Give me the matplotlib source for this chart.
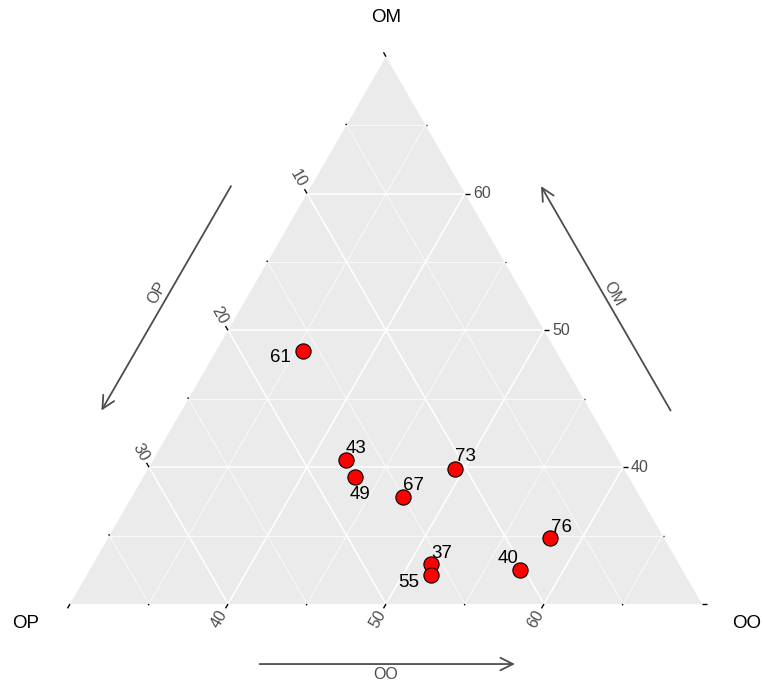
import numpy as np
import matplotlib
matplotlib.use("Agg")
import matplotlib.pyplot as plt

plt.rcParams['font.family'] = ['Liberation Sans', 'DejaVu Sans']

# sample composition (percent)
sample_ids = [61, 43, 49, 67, 73, 76, 37, 55, 40]
om_vals = [48.5, 40.5, 39.3, 37.8, 39.9, 34.8, 32.9, 32.1, 32.5]
oo_vals = [35.5, 42.2, 43.4, 47.2, 49.4, 58.0, 51.4, 51.8, 57.2]
op_vals = [16.0, 17.3, 17.3, 15.0, 10.7, 7.2, 15.7, 16.1, 10.3]

# zoomed ternary limits
om_min, oo_min, span = 30, 30, 40
om_breaks = [40, 50, 60]
oo_breaks = [40, 50, 60]
op_breaks = [10, 20, 30]

# label offsets in pixels (dx, dy with y down) relative to the point
label_offsets = {61: (-23, 4.5), 43: (10.5, -13.7), 49: (5, 15.3), 67: (10.5, -13.7),
                 73: (10.5, -14.3), 76: (11.3, -13.4), 37: (11, -13), 55: (-22.4, 4.8),
                 40: (-11.2, -13.4)}

H = np.sqrt(3) / 2
PX = 632.0  # pixels per unit


def tern_xy(om, oo, op):
    om, oo, op = np.asarray(om, float), np.asarray(oo, float), np.asarray(op, float)
    tot = om + oo + op
    a = (om / tot * 100 - om_min) / span
    c = (oo / tot * 100 - oo_min) / span
    return c + a / 2, a * H


fig = plt.figure(figsize=(7.64, 6.83), dpi=100)
ax = fig.add_axes([0, 0, 1, 1])
ax.set_xlim(-70 / PX, 694 / PX)
ax.set_ylim(-79 / PX, 604 / PX)
ax.axis('off')

# panel
ax.fill([0, 1, 0.5], [0, 0, H], color='#EBEBEB', lw=0, zorder=0)

# grid
for v in np.arange(35, 70, 5):
    major = v % 10 == 0
    lw = 1.1 if major else 0.5
    a = (v - om_min) / span
    ax.plot([a / 2, 1 - a / 2], [a * H, a * H], color='white', lw=lw, zorder=1)
    c = (v - oo_min) / span
    ax.plot([c, c + (1 - c) / 2], [0, (1 - c) * H], color='white', lw=lw, zorder=1)
for v in np.arange(5, 40, 5):
    major = v % 10 == 0
    lw = 1.1 if major else 0.5
    b = v / span
    ax.plot([1 - b, (1 - b) / 2], [0, (1 - b) * H], color='white', lw=lw, zorder=1)

# ticks and tick labels
tick_major = 5 / PX
tick_minor = 1.5 / PX
gap = 3 / PX
tick_kw = dict(fontsize=11.5, color='#4D4D4D', rotation_mode='anchor')
tline = dict(color='black', lw=1.0, zorder=3, clip_on=False, solid_capstyle='butt')

for v in np.arange(30, 70, 5):
    L = tick_major if v % 10 == 0 else tick_minor
    # OM on right edge, pointing right
    a = (v - om_min) / span
    x0, y0 = 1 - a / 2, a * H
    ax.plot([x0, x0 + L], [y0, y0], **tline)
    if v in om_breaks:
        ax.text(x0 + L + gap, y0, str(v), ha='left', va='center', **tick_kw)
    # OO on bottom edge, pointing down-left
    c = (v - oo_min) / span
    d = np.array([-0.5, -H])
    ax.plot([c, c + d[0] * L], [0, d[1] * L], **tline)
    if v in oo_breaks:
        ax.text(c + d[0] * (L + gap), d[1] * (L + gap), str(v), ha='right', va='center',
                rotation=60, **tick_kw)

for v in np.arange(0, 40, 5):
    L = tick_major if v % 10 == 0 else tick_minor
    b = v / span
    x0, y0 = (1 - b) / 2, (1 - b) * H
    d = np.array([-0.5, H])
    ax.plot([x0, x0 + d[0] * L], [y0, y0 + d[1] * L], **tline)
    if v in op_breaks:
        ax.text(x0 + d[0] * (L + gap), y0 + d[1] * (L + gap), str(v), ha='right', va='center',
                rotation=-60, **tick_kw)

# vertex titles
title_kw = dict(fontsize=13.5, color='black', ha='center', va='center')
ax.text(0.5, (604 - 17) / PX, 'OM', **title_kw)
ax.text(-44 / PX, -19 / PX, 'OP', **title_kw)
ax.text(677 / PX, -19 / PX, 'OO', **title_kw)

# axis arrows
arrow_kw = dict(arrowstyle='->,head_length=0.9,head_width=0.45', color='#4D4D4D', lw=1.3,
                shrinkA=0, shrinkB=0)
lab_kw = dict(fontsize=11.5, color='#4D4D4D', ha='center', va='center', rotation_mode='anchor')
t0, t1, d_side, d_bot = 0.30, 0.71, 0.110, 0.095

# left edge (OP) - top to bottom-left
nl = np.array([-H, 0.5])
p_start = np.array([0.5 - 0.5 * t0, H * (1 - t0)]) + nl * d_side
p_end = np.array([0.5 - 0.5 * t1, H * (1 - t1)]) + nl * d_side
ax.annotate('', xy=p_end, xytext=p_start, arrowprops=arrow_kw)
mid = (p_start + p_end) / 2 + nl * 11 / PX
ax.text(mid[0], mid[1], 'OP', rotation=60, **lab_kw)

# right edge (OM) - bottom-right to top
nr = np.array([H, 0.5])
p_start = np.array([0.5 + 0.5 * t1, H * (1 - t1)]) + nr * d_side
p_end = np.array([0.5 + 0.5 * t0, H * (1 - t0)]) + nr * d_side
ax.annotate('', xy=p_end, xytext=p_start, arrowprops=arrow_kw)
mid = (p_start + p_end) / 2 + nr * 9 / PX
ax.text(mid[0], mid[1], 'OM', rotation=-60, **lab_kw)

# bottom edge (OO) - left to right
p_start = np.array([0.30, -d_bot])
p_end = np.array([0.704, -d_bot])
ax.annotate('', xy=p_end, xytext=p_start, arrowprops=arrow_kw)
ax.text(0.5, -d_bot - 10 / PX, 'OO', **lab_kw)

# points
xs, ys = tern_xy(om_vals, oo_vals, op_vals)
ax.scatter(xs, ys, s=120, color='red', edgecolor='black', linewidth=0.8, zorder=5)

for sid, x, y in zip(sample_ids, xs, ys):
    dx, dy = label_offsets[sid]
    ax.annotate(str(sid), (x, y), xytext=(dx * 0.72, -(dy + 6.6) * 0.72),
                textcoords='offset points', ha='center', va='baseline', fontsize=13.5,
                color='black', zorder=6)

fig.savefig('out.png', dpi=100, facecolor='white')
